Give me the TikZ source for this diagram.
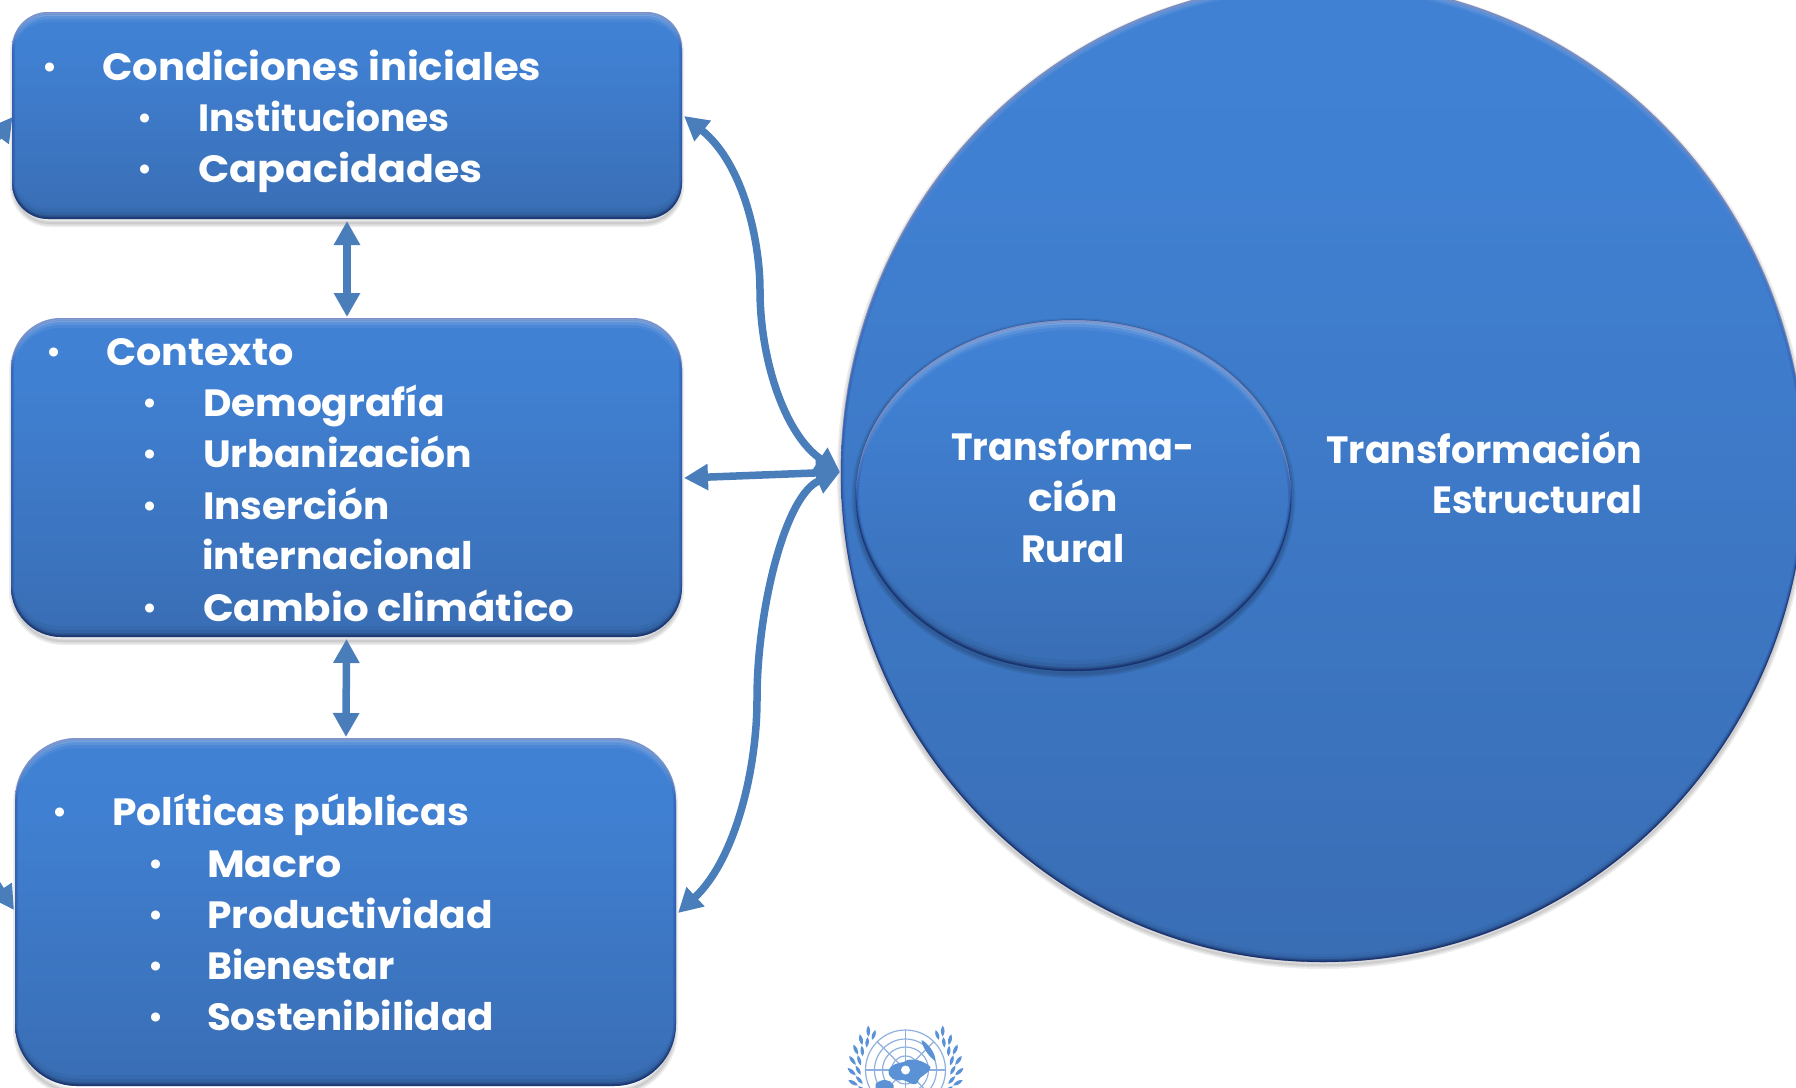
\documentclass[tikz,border=0pt]{standalone}
\usepackage{fontspec}
\setmainfont{Poppins}
\usetikzlibrary{arrows.meta,calc,shapes.geometric}
\definecolor{arrowblue}{HTML}{4A7EBB}
\definecolor{unblue}{HTML}{5B92D6}
\definecolor{unline}{HTML}{8DB0DE}
\definecolor{sa}{HTML}{3463A4}
\definecolor{sb}{HTML}{3A70B8}
\definecolor{sc}{HTML}{4080D2}
\definecolor{sd}{HTML}{4385DA}
\pgfdeclareverticalshading{bodyshade}{100bp}{color(0bp)=(sa);color(30bp)=(sb);color(65bp)=(sc);color(100bp)=(sd)}
\tikzset{
  x=1pt,y=-1pt,
  card/.style={rectangle,draw=none,shading=bodyshade,minimum width=#1,inner sep=0pt,outer sep=0pt},
  round/.style={ellipse,inner sep=0pt,outer sep=0pt,shading=bodyshade,draw=black!70!blue,draw opacity=0.25,line width=0.8pt},
  halo/.style={draw=black,line width=#1,opacity=0.07},
  txt/.style={anchor=base west,inner sep=0pt,outer sep=0pt,text=white,font=\fontsize{38}{46}\selectfont\bfseries},
  txtc/.style={txt,anchor=base,align=center},
  txtr/.style={txt,anchor=base east},
  link/.style={draw=arrowblue,line width=7.5pt,{Triangle[length=24pt,width=25pt]}-{Triangle[length=24pt,width=25pt]}},
  stub/.style={draw=arrowblue,line width=7.5pt,-{Triangle[length=24pt,width=25pt]}},
  emb/.style={draw=unline,line width=1.2pt},
}
\newcommand{\bul}[1]{\makebox[#1pt][l]{\fontsize{30}{30}\selectfont\raisebox{2.5pt}{•}}}
\newcommand{\sx}[2]{\scalebox{#1}[1]{#2}}
\newcommand{\bevel}[2]{% #1 depth factor, #2 path spec using \dy
  \begin{scope}
    \def\dy{0}
    \clip #2;
    \foreach \d/\o in {2/.26,4/.18,7/.10,10/.05}{
      \pgfmathsetmacro{\dy}{\d*#1}
      \fill[white,opacity=\o,even odd rule] (-100,-100) rectangle (1950,1300) #2;
    }
    \foreach \d/\o in {-2/.16,-4/.10,-7/.06,-11/.04}{
      \pgfmathsetmacro{\dy}{\d*#1}
      \fill[black,opacity=\o,even odd rule] (-100,-100) rectangle (1950,1300) #2;
    }
    \def\dy{0}
    \draw[black!60!blue,opacity=.10,line width=6pt] #2;
    \draw[black!60!blue,opacity=.12,line width=3pt] #2;
  \end{scope}}
\newcommand{\leafpair}[1]{%
  \fill[unblue] (-#1:45) to[bend left=35] (-#1-11:50) to[bend left=35] cycle;
  \fill[unblue] (-#1:50) to[bend left=35] (-#1-8:58) to[bend left=35] cycle;}
\begin{document}
\begin{tikzpicture}
\useasboundingbox (0,0) rectangle (1796,1087);
\clip (0,0) rectangle (1796,1087);
% shadows
\foreach \w in {2,5,8}{
  \draw[halo=\w pt] (1323,475) ellipse [x radius=482,y radius=490];
  \draw[halo=\w pt,rounded corners=50pt] (13,322) rectangle (680,641);
  \draw[halo=\w pt,rounded corners=36pt] (14,16) rectangle (680,223);
  \draw[halo=\w pt,rounded corners=62pt] (17,742) rectangle (674,1092);
}
% big circle
\node[round,minimum width=964pt,minimum height=980pt] (estructural) at (1323,472) {};
\bevel{0.7}{(1323,472+\dy) ellipse [x radius=482,y radius=490]}
% inner oval
\foreach \w in {3,6,9}{
  \draw[halo=\w pt] (1073.5,498) ellipse [x radius=217.5,y radius=175.5];
}
\node[round,minimum width=435pt,minimum height=351pt] (rural) at (1073.5,495.5) {};
\bevel{1}{(1073.5,495.5+\dy) ellipse [x radius=217.5,y radius=175.5]}
% boxes
\node[card=670pt,minimum height=207pt,rounded corners=36pt] (b1) at (347,115.5) {};
\bevel{1}{[rounded corners=36pt] (12,12+\dy) rectangle (682,219+\dy)}
\node[card=671pt,minimum height=319pt,rounded corners=50pt] (b2) at (346.5,477.5) {};
\bevel{1}{[rounded corners=50pt] (11,318+\dy) rectangle (682,637+\dy)}
\node[card=661pt,minimum height=348pt,rounded corners=62pt] (b3) at (345.5,912) {};
\bevel{1}{[rounded corners=62pt] (15,738+\dy) rectangle (676,1086+\dy)}
% texts
\node[txt] (c0) at (42,80) {\bul{60}\sx{1.055}{Condiciones iniciales}};
\node[txt] (c1) at (137,131) {\bul{61}\sx{0.99}{Instituciones}};
\node[txt] (c2) at (137,182) {\bul{61}\sx{1.083}{Capacidades}};
\node[txt] (k0) at (46,365) {\bul{60}\sx{1.045}{Contexto}};
\node[txt] (k1) at (142,416) {\bul{61}\sx{1.03}{Demografía}};
\node[txt] (k2) at (142,467) {\bul{61}\sx{1.035}{Urbanización}};
\node[txt] (k3) at (142,519) {\bul{61}\sx{1.025}{Inserción}};
\node[txt] (k4) at (202,569) {\sx{1.026}{internacional}};
\node[txt] (k5) at (142,621) {\bul{61}\sx{1.062}{Cambio climático}};
\node[txt] (p0) at (52,825) {\bul{60}\sx{1.033}{Políticas públicas}};
\node[txt] (p1) at (148,877) {\bul{59}\sx{1.083}{Macro}};
\node[txt] (p2) at (148,928) {\bul{59}\sx{1.03}{Productividad}};
\node[txt] (p3) at (148,979) {\bul{59}{Bienestar}};
\node[txt] (p4) at (148,1030) {\bul{59}\sx{1.02}{Sostenibilidad}};
\node[txtc] (tr1) at (1073,460) {\sx{0.96}{Transforma-}};
\node[txtc] (tr2) at (1073,511) {\sx{1.07}{ción}};
\node[txtc] (tr3) at (1073,562) {Rural};
\node[txtr] (te1) at (1642,463) {Transformación};
\node[txtr] (te2) at (1642,513) {\sx{0.968}{Estructural}};
% connectors
\coordinate (hub) at (840,472);
\coordinate (b1r) at (684,116);
\coordinate (b2r) at (684,478);
\coordinate (b3r) at (678,913);
\draw[link] ($(b1.south)+(0,2)$) -- ($(b2.north)+(0.5,-1)$);
\draw[link] ($(b2.south)+(0,2)$) -- ($(b3.north)+(0.5,-1)$);
\draw[link] (b2r) -- (hub);
\draw[link] (b1r) .. controls (745,165) and (760,245) .. (760,290) .. controls (760,360) and (785,435) .. (hub);
\draw[link] (b3r) .. controls (735,860) and (757,770) .. (757,699) .. controls (757,610) and (785,495) .. (hub);
\coordinate (l1a) at (-47,197);
\coordinate (l1b) at (12.5,117);
\coordinate (l3a) at (-41,827);
\coordinate (l3b) at (14,910);
\draw[stub] (l1a) -- (l1b);
\draw[stub] (l3a) -- (l3b);
% emblem
\begin{scope}[shift={(905.5,1070)}]
  \foreach \r in {40,31,23,14}{\draw[emb] (0,0) circle[radius=\r];}
  \draw[emb] (-40,0) -- (40,0) (0,-40) -- (0,40);
  \draw[emb] (-28,-28) -- (28,28) (28,-28) -- (-28,28);
  \fill[unblue] (-17,0) .. controls (-12,-9) and (-2,-6) .. (2,-10) .. controls (10,-12) and (20,-8) .. (25,-3) .. controls (24,5) and (14,4) .. (12,13) .. controls (6,17) and (2,10) .. (-3,10) .. controls (-10,12) and (-18,8) .. (-17,0);
  \fill[white] (0,0) circle[radius=4.5];
  \fill[unblue] (-30,14) .. controls (-24,8) and (-15,9) .. (-12,15) -- (-12,18) -- (-30,18) -- cycle;
  \fill[unblue] (16,-30) .. controls (21,-28) and (30,-18) .. (30,-9) .. controls (24,-12) and (16,-24) .. (16,-30);
  \foreach \t in {-30,-18,-6,6,18,30,42}{\leafpair{\t}}
  \begin{scope}[xscale=-1]
    \foreach \t in {-30,-18,-6,6,18,30,42}{\leafpair{\t}}
  \end{scope}
\end{scope}
\end{tikzpicture}
\end{document}
